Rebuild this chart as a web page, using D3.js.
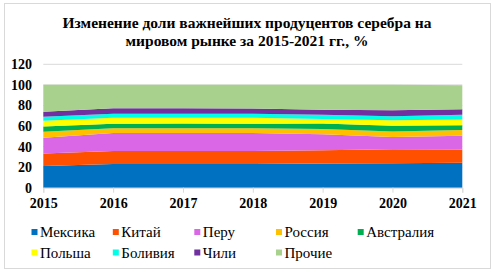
<!DOCTYPE html>
<html>
<head>
<meta charset="utf-8">
<script src="https://cdn.jsdelivr.net/npm/d3@7"></script>
<style>
  body { margin: 0; background: #fff; }
</style>
</head>
<body>
<svg id="chart" width="495" height="274"></svg>
<script>
// data
var years = [2015, 2016, 2017, 2018, 2019, 2020, 2021];
var seriesNames = ["Мексика", "Китай", "Перу", "Россия", "Австралия", "Польша", "Боливия", "Чили", "Прочие"];
var mexico    = [21.2, 23.1, 23.1, 23.1, 23.5, 23.8, 24.2];
var china     = [12.0, 12.7, 12.7, 12.7, 12.8, 13.7, 13.0];
var peru      = [15.3, 17.3, 17.3, 17.3, 15.7, 11.7, 13.2];
var russia    = [5.9, 4.6, 4.6, 4.6, 5.2, 5.5, 5.6];
var australia = [5.2, 4.5, 4.8, 4.5, 5.2, 5.6, 4.8];
var poland    = [5.5, 5.9, 5.6, 5.9, 4.3, 5.2, 5.4];
var bolivia   = [4.0, 3.9, 3.9, 3.9, 4.3, 3.9, 4.7];
var chile     = [4.8, 5.2, 5.2, 5.0, 4.9, 5.8, 5.4];
var others    = [26.1, 22.8, 22.8, 23.1, 24.1, 24.8, 23.3];
var yTicks = [0, 20, 40, 60, 80, 100, 120];

var colors = ["#0070C0", "#FF5000", "#DA68E6", "#FFC000", "#00B050", "#FFFF00", "#00FFE6", "#7030A0", "#A9D18E"];
var allSeries = [mexico, china, peru, russia, australia, poland, bolivia, chile, others];
var serif = '"Liberation Serif", "Times New Roman", "DejaVu Serif", serif';

var rows = years.map(function(y, i) {
    var r = { year: y };
    seriesNames.forEach(function(n, k) { r[n] = allSeries[k][i]; });
    return r;
});

var svg = d3.select("#chart");

svg.append("rect")
    .attr("x", 4.5).attr("y", 3.5)
    .attr("width", 486).attr("height", 265)
    .style("fill", "#fff")
    .style("stroke", "#d9d9d9");

svg.append("text")
    .attr("x", 247).attr("y", 28)
    .attr("text-anchor", "middle")
    .style("font-family", serif)
    .style("font-size", "15.5px").style("font-weight", "bold")
    .text("Изменение доли важнейших продуцентов серебра на");
svg.append("text")
    .attr("x", 247).attr("y", 46)
    .attr("text-anchor", "middle")
    .style("font-family", serif)
    .style("font-size", "15.5px").style("font-weight", "bold")
    .text("мировом рынке за 2015-2021 гг., %");

var x = d3.scaleLinear().domain([2015, 2021]).range([43.3, 462.3]);
var y = d3.scaleLinear().domain([0, 120]).range([187.7, 64.3]);

// gridlines
svg.append("g")
    .selectAll("line.grid")
    .data(yTicks)
    .join("line")
    .classed("grid", true)
    .attr("x1", x(2015)).attr("x2", x(2021))
    .attr("y1", function(d) { return y(d); })
    .attr("y2", function(d) { return y(d); })
    .style("stroke", "#d9d9d9")
    .style("stroke-width", "1px");

var stack = d3.stack().keys(seriesNames);
var layers = stack(rows);

var area = d3.area()
    .x(function(d) { return x(d.data.year); })
    .y0(function(d) { return y(d[0]); })
    .y1(function(d) { return y(d[1]); });

svg.append("g")
    .selectAll("path.layer")
    .data(layers)
    .join("path")
    .classed("layer", true)
    .attr("d", area)
    .style("fill", function(d, i) { return colors[i]; });

// x axis
var xAxis = svg.append("g")
    .attr("transform", "translate(0," + y(0) + ")")
    .call(d3.axisBottom(x).tickValues(years).tickFormat(d3.format("d")).tickSize(5).tickPadding(5));
xAxis.select(".domain").style("stroke", "#d9d9d9");
xAxis.selectAll(".tick line").style("stroke", "#d9d9d9");
xAxis.selectAll(".tick text")
    .style("font-family", serif)
    .style("font-size", "14px").style("font-weight", "bold").style("fill", "#000");

// y axis
var yAxis = svg.append("g")
    .attr("transform", "translate(" + 32 + ",0)")
    .call(d3.axisLeft(y).tickValues(yTicks).tickSize(0).tickPadding(0));
yAxis.select(".domain").remove();
yAxis.selectAll(".tick text")
    .style("font-family", serif)
    .style("font-size", "14px").style("font-weight", "bold").style("fill", "#000");

// legend
var legendX = [31.5, 112.8, 194.3, 276, 357.7];
var legend = svg.append("g")
    .selectAll("g.item")
    .data(seriesNames)
    .join("g")
    .classed("item", true)
    .attr("transform", function(d, i) {
        return "translate(" + legendX[i % 5] + "," + (i < 5 ? 232 : 252.5) + ")";
    });
legend.append("rect")
    .attr("x", 0).attr("y", -3)
    .attr("width", 6).attr("height", 6)
    .style("fill", function(d, i) { return colors[i]; });
legend.append("text")
    .attr("x", 8.5).attr("y", 5)
    .style("font-family", serif)
    .style("font-size", "15px")
    .text(function(d) { return d; });
</script>
</body>
</html>
